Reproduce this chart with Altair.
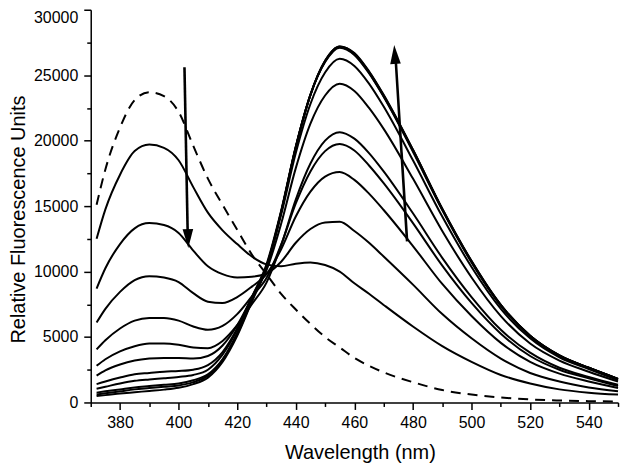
import altair as alt
import pandas as pd

wavelength = [372, 375, 380, 385, 390, 395, 400, 405, 410, 415, 420, 425, 430, 435, 440,
              445, 450, 455, 460, 465, 470, 480, 490, 500, 510, 520, 530, 540, 550]

# dashed reference spectrum
dashed = [15100, 17800, 21000, 23100, 23700, 23400, 22200, 19600, 17100, 15100, 13200, 11300,
          9800, 8300, 7100, 6000, 5000, 4200, 3400, 2800, 2300, 1550, 950, 600, 380, 230, 150, 100, 80]

s1 = [12500, 14750, 17400, 19200, 19700, 19450, 18500, 16450, 14500, 13150, 12100, 11150,
      10550, 10400, 10600, 10700, 10500, 10000, 9100, 8300, 7450, 5800, 4300, 3100, 2100, 1450, 1000, 750, 600]
s2 = [8700, 10250, 12100, 13300, 13700, 13550, 12950, 11600, 10400, 9800, 9550, 9600,
      9850, 10750, 12200, 13250, 13750, 13800, 13100, 12200, 11150, 9000, 6750, 4900, 3350, 2250, 1600, 1150, 850]
s3 = [6100, 7150, 8450, 9350, 9650, 9550, 9200, 8350, 7700, 7600, 8050, 8850,
      9800, 11700, 14200, 16100, 17250, 17600, 17000, 15950, 14700, 11950, 9050, 6600, 4550, 3100, 2200, 1600, 1100]
s4 = [4050, 4750, 5650, 6250, 6450, 6450, 6250, 5800, 5550, 5850, 6750, 8100,
      9500, 12050, 15200, 17650, 19200, 19750, 19250, 18100, 16750, 13700, 10450, 7600, 5250, 3550, 2500, 1850, 1250]
s5 = [2800, 3300, 3900, 4300, 4500, 4500, 4400, 4200, 4150, 4700, 5900, 7500,
      9150, 12000, 15500, 18250, 20000, 20650, 20150, 19050, 17650, 14450, 11050, 8050, 5550, 3800, 2650, 1950, 1350]
s6 = [2050, 2450, 2900, 3200, 3350, 3400, 3400, 3350, 3550, 4350, 5900, 8000,
      10100, 13650, 17900, 21300, 23450, 24350, 23800, 22500, 20900, 17100, 13100, 9550, 6600, 4500, 3200, 2350, 1600]
s7 = [1400, 1600, 1900, 2150, 2250, 2350, 2400, 2500, 2850, 3850, 5650, 8050,
      10400, 14350, 19050, 22800, 25200, 26250, 25700, 24350, 22600, 18500, 14200, 10350, 7150, 4900, 3450, 2550, 1700]
s8 = [1050, 1200, 1450, 1650, 1760, 1850, 1950, 2100, 2500, 3650, 5550, 8050,
      10550, 14650, 19550, 23500, 26000, 27100, 26550, 25150, 23350, 19150, 14700, 10700, 7400, 5050, 3550, 2650, 1800]
s9 = [750, 850, 1000, 1150, 1250, 1350, 1450, 1700, 2150, 3300, 5300, 7850,
      10400, 14550, 19500, 23500, 26050, 27150, 26600, 25200, 23400, 19250, 14750, 10750, 7400, 5100, 3600, 2650, 1800]
s10 = [600, 700, 850, 1000, 1100, 1200, 1300, 1550, 2050, 3250, 5200, 7800,
       10350, 14550, 19500, 23500, 26100, 27200, 26650, 25250, 23450, 19300, 14800, 10800, 7450, 5100, 3600, 2650, 1800]
s11 = [500, 560, 680, 780, 880, 980, 1120, 1400, 1900, 3100, 5100, 7700,
       10300, 14500, 19500, 23500, 26100, 27200, 26700, 25300, 23500, 19300, 14800, 10800, 7450, 5100, 3600, 2650, 1800]

solid = {"s1": s1, "s2": s2, "s3": s3, "s4": s4, "s5": s5, "s6": s6,
         "s7": s7, "s8": s8, "s9": s9, "s10": s10, "s11": s11}

# arrows (data coordinates): tail, shaft end, tip
arrow_tail_x = [402.0, 478.0]
arrow_tail_y = [25600, 12300]
arrow_shaft_x = [403.1, 474.1]
arrow_shaft_y = [12900, 26200]
arrow_tip_x = [403.3, 473.6]
arrow_tip_y = [11800, 27300]

x_major = list(range(380, 541, 20))
x_minor = list(range(370, 551, 20))
y_major = list(range(0, 30001, 5000))
y_minor = list(range(2500, 30000, 5000))

rows = []
for name, vals in solid.items():
    for w, v in zip(wavelength, vals):
        rows.append({"wl": w, "v": v, "series": name})
solid_df = pd.DataFrame(rows)
dashed_df = pd.DataFrame({"wl": wavelength, "v": dashed})
shaft_df = pd.DataFrame({"x1": arrow_tail_x, "y1": arrow_tail_y,
                         "x2": arrow_shaft_x, "y2": arrow_shaft_y})
head_down = pd.DataFrame({"x": arrow_tip_x[:1], "y": arrow_tip_y[:1]})
head_up = pd.DataFrame({"x": arrow_tip_x[1:], "y": arrow_tip_y[1:]})

FONT = "Liberation Sans"

xscale = alt.Scale(domain=[370, 550], nice=False, zero=False)
yscale = alt.Scale(domain=[0, 30000], nice=False)

common = dict(grid=False, labelOverlap=False, labelFont=FONT, titleFont=FONT,
              titleFontWeight="normal", labelColor="black", titleColor="black",
              domainColor="black", tickColor="black", domainWidth=1.5, tickWidth=1.5)

x_axis = alt.Axis(
    values=x_major, format="d", orient="bottom", tickSize=7,
    title="Wavelength (nm)", labelFontSize=16, titleFontSize=20,
    labelPadding=5, titlePadding=12, titleX=270, **common,
)
y_axis = alt.Axis(
    values=y_major, format="d", orient="left", tickSize=7,
    labelBaseline={"condition": {"test": "datum.value >= 30000", "value": "top"}, "value": "middle"},
    title="Relative Fluorescence Units", labelFontSize=16, titleFontSize=20,
    labelPadding=6, titlePadding=5, titleY=210, **common,
)
x_minor_axis = alt.Axis(values=x_minor, orient="bottom", tickSize=4, labels=False,
                        domain=False, title=None, grid=False, tickColor="black", tickWidth=1.5)
y_minor_axis = alt.Axis(values=y_minor, orient="left", tickSize=4, labels=False,
                        domain=False, title=None, grid=False, tickColor="black", tickWidth=1.5)

solid_layer = alt.Chart(solid_df).mark_line(
    color="black", strokeWidth=2, interpolate="monotone"
).encode(
    x=alt.X("wl:Q", scale=xscale, axis=x_axis),
    y=alt.Y("v:Q", scale=yscale, axis=y_axis),
    detail="series:N",
)

dashed_layer = alt.Chart(dashed_df).mark_line(
    color="black", strokeWidth=2, strokeDash=[10, 7], interpolate="monotone"
).encode(
    x=alt.X("wl:Q", scale=xscale, axis=x_minor_axis),
    y=alt.Y("v:Q", scale=yscale, axis=y_minor_axis),
)

shaft_layer = alt.Chart(shaft_df).mark_rule(color="black", strokeWidth=2.6).encode(
    x=alt.X("x1:Q", axis=None), y=alt.Y("y1:Q", axis=None), x2="x2:Q", y2="y2:Q"
)

HEAD = "M0,0 L0.28,1 L-0.28,1 Z"
head_down_layer = alt.Chart(head_down).mark_point(
    shape=HEAD, size=1444, filled=True, color="black", opacity=1, angle=178.8
).encode(x=alt.X("x:Q", axis=None), y=alt.Y("y:Q", axis=None))
head_up_layer = alt.Chart(head_up).mark_point(
    shape=HEAD, size=1444, filled=True, color="black", opacity=1, angle=356.1
).encode(x=alt.X("x:Q", axis=None), y=alt.Y("y:Q", axis=None))

chart = alt.layer(
    solid_layer, dashed_layer, shaft_layer, head_down_layer, head_up_layer
).resolve_axis(
    x="independent", y="independent"
).properties(
    width=529, height=394,
    padding={"left": 0, "top": 0, "right": 0, "bottom": 0},
    background="white",
).configure_view(stroke=None)

chart.save("out.html", embed_options={"renderer": "svg", "actions": False})
